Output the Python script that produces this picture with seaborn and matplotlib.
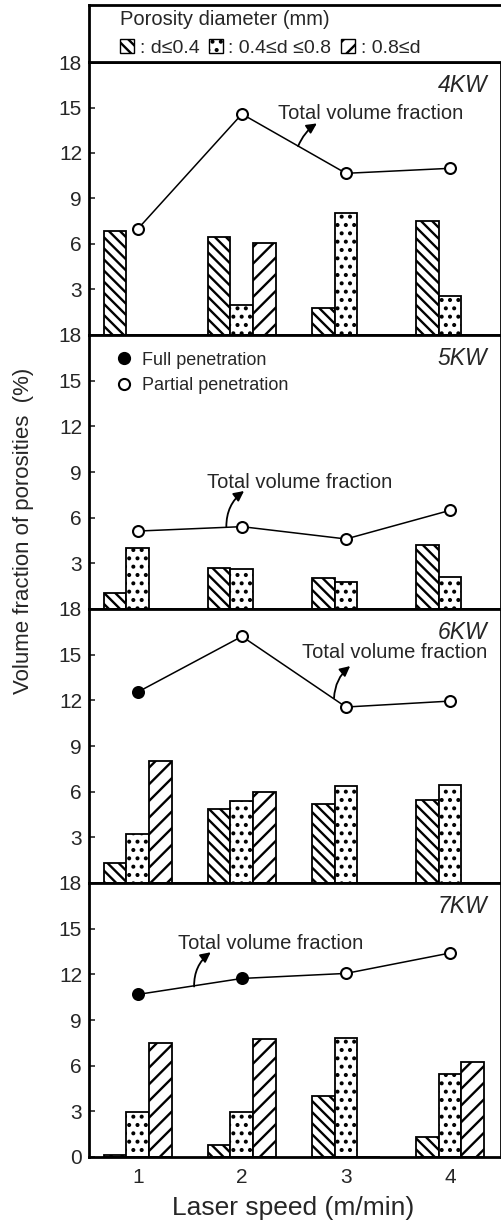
import matplotlib
matplotlib.use("Agg")
import matplotlib.pyplot as plt
import seaborn as sns
import pandas as pd
import numpy as np
from matplotlib.patches import Patch
from matplotlib.lines import Line2D

# ---------------- data ----------------
speeds = [1, 2, 3, 4]
powers = ["4KW", "5KW", "6KW", "7KW"]
size_classes = [": d\u22640.4", ": 0.4\u2264d \u22640.8", ": 0.8\u2264d"]

small = [[6.85, 6.48, 1.80, 7.54],
         [1.03, 2.67, 2.06, 4.20],
         [1.34, 4.86, 5.20, 5.47],
         [0.10, 0.77, 4.01, 1.30]]
medium = [[0.00, 1.98, 8.06, 2.60],
          [3.99, 2.60, 1.80, 2.08],
          [3.21, 5.36, 6.39, 6.41],
          [2.96, 2.94, 7.85, 5.44]]
large = [[0.00, 6.08, 0.00, 0.00],
         [0.00, 0.00, 0.00, 0.00],
         [8.00, 5.97, 0.00, 0.00],
         [7.50, 7.74, 0.00, 6.21]]
total = [[7.00, 14.57, 10.66, 10.99],
         [5.12, 5.41, 4.60, 6.48],
         [12.55, 16.20, 11.56, 11.95],
         [10.68, 11.73, 12.06, 13.40]]
full_pen = [[False, False, False, False],
            [False, False, False, False],
            [True, False, False, False],
            [True, True, False, False]]

y_ticks_upper = [3, 6, 9, 12, 15, 18]
y_ticks_bottom = [0, 3, 6, 9, 12, 15, 18]

# annotation positions (text, arrow tail, arrow head) in data coords per panel
ann_text = [(2.35, 14.6), (1.66, 8.34), (2.58, 15.16), (1.39, 14.0)]
ann_tail = [(2.54, 12.45), (1.85, 5.40), (2.885, 12.15), (1.54, 11.20)]
ann_head = [(2.72, 13.95), (2.02, 7.75), (3.04, 14.25), (1.70, 13.45)]
ann_rad = [-0.15, -0.25, -0.22, -0.25]

# ---------------- style ----------------
sns.set_style("ticks")
plt.rcParams["font.family"] = ["Liberation Sans", "DejaVu Sans"]
plt.rcParams["hatch.linewidth"] = 1.7
plt.rcParams["hatch.color"] = "black"

hatches = ["\\\\\\", "..", "//"]

W, H = 502, 1226
fig = plt.figure(figsize=(W / 100, H / 100), dpi=100)

left_px, right_px = 89, 501
tops = [62, 335, 609, 883]
bottoms = [335, 609, 883, 1157]


def fx(px):
    return px / W


def fy(py):
    return 1 - py / H


axes = []
for i in range(4):
    ax = fig.add_axes([fx(left_px), fy(bottoms[i]), fx(right_px - left_px),
                       (bottoms[i] - tops[i]) / H])
    axes.append(ax)

for i, ax in enumerate(axes):
    rows = []
    for j, s in enumerate(speeds):
        rows.append((s, size_classes[0], small[i][j]))
        rows.append((s, size_classes[1], medium[i][j]))
        rows.append((s, size_classes[2], large[i][j]))
    df = pd.DataFrame(rows, columns=["speed", "size", "value"])
    sns.barplot(data=df, x="speed", y="value", hue="size", hue_order=size_classes,
                native_scale=True, width=0.66, gap=0, errorbar=None,
                palette=["white"] * 3, edgecolor="black", linewidth=1.3,
                legend=False, ax=ax, zorder=2)
    for cont, h in zip(ax.containers, hatches):
        for p in cont:
            p.set_hatch(h)

    sns.lineplot(x=speeds, y=total[i], color="black", linewidth=1.1, ax=ax, zorder=3)
    fp = np.array(full_pen[i])
    sx = np.array(speeds)
    sy = np.array(total[i])
    ax.scatter(sx[fp], sy[fp], s=62, facecolor="black", edgecolor="black",
               linewidth=1.5, zorder=4)
    ax.scatter(sx[~fp], sy[~fp], s=62, facecolor="white", edgecolor="black",
               linewidth=1.5, zorder=4)

    ax.set_xlim(0.53, 4.49)
    ax.set_ylim(0, 18)
    ax.set_xlabel("")
    ax.set_ylabel("")
    if i < 3:
        ax.set_yticks(y_ticks_upper)
        ax.set_xticks(speeds)
        ax.tick_params(axis="x", length=0, labelbottom=False)
    else:
        ax.set_yticks(y_ticks_bottom)
        ax.set_xticks(speeds)
        ax.tick_params(axis="x", direction="in", length=3, labelsize=15, pad=8)
    ax.tick_params(axis="y", direction="in", length=4, width=1.2, labelsize=15, pad=5)
    for sp in ax.spines.values():
        sp.set_visible(True)
        sp.set_linewidth(2.0)
        sp.set_color("black")

    ax.text(0.966, 0.915, powers[i], transform=ax.transAxes, ha="right",
            va="center", fontsize=16.5, style="italic")

    ax.text(ann_text[i][0], ann_text[i][1], "Total volume fraction",
            ha="left", va="center", fontsize=14.5, zorder=5)
    ax.annotate("", xy=ann_head[i], xytext=ann_tail[i],
                arrowprops=dict(arrowstyle="-|>", color="black", lw=1.3,
                                mutation_scale=15, shrinkA=0, shrinkB=0,
                                connectionstyle=f"arc3,rad={ann_rad[i]}"),
                zorder=5)

# penetration legend in 5KW panel
pen_handles = [Line2D([], [], marker="o", linestyle="none", markersize=8,
                      markerfacecolor="black", markeredgecolor="black", markeredgewidth=1.5),
               Line2D([], [], marker="o", linestyle="none", markersize=8,
                      markerfacecolor="white", markeredgecolor="black", markeredgewidth=1.5)]
axes[1].legend(pen_handles, ["Full penetration", "Partial penetration"],
               loc="upper left", bbox_to_anchor=(0.045, 0.965), frameon=False,
               fontsize=13, handlelength=1.0, handletextpad=0.5, labelspacing=0.45,
               borderaxespad=0)

# top legend box
lax = fig.add_axes([fx(left_px), fy(tops[0]), fx(W - left_px + 2), (tops[0] - 5) / H])
lax.set_xticks([])
lax.set_yticks([])
for sp in lax.spines.values():
    sp.set_linewidth(2.0)
    sp.set_color("black")
size_handles = [Patch(facecolor="white", edgecolor="black", hatch=h, linewidth=1.0)
                for h in hatches]
leg = lax.legend(size_handles, size_classes, ncol=3, title="Porosity diameter (mm)",
                 loc="center left", bbox_to_anchor=(0.075, 0.5), frameon=False,
                 fontsize=14, title_fontsize=14.5, handlelength=0.7, handleheight=0.7,
                 handletextpad=0.3, columnspacing=0.5, borderpad=0, borderaxespad=0,
                 alignment="left")

fig.text(fx(24), fy(531), "Volume fraction of porosities  (%)", rotation=90,
         ha="center", va="center", fontsize=16)
fig.text(fx(293), fy(1208), "Laser speed (m/min)", ha="center", va="center",
         fontsize=19)

fig.savefig("out.png", dpi=100)
